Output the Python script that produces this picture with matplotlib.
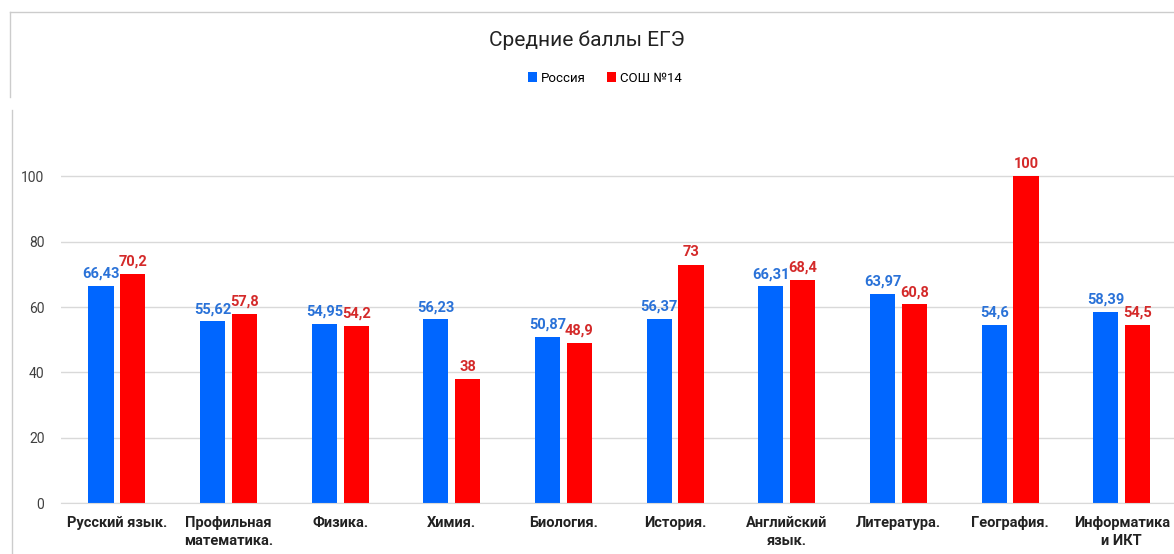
import matplotlib
matplotlib.use("Agg")
import matplotlib.pyplot as plt
import numpy as np
from matplotlib.lines import Line2D

plt.rcParams['font.family'] = ['Roboto', 'DejaVu Sans']

subjects = ["Русский язык.", "Профильная\nматематика.", "Физика.", "Химия.", "Биология.",
            "История.", "Английский\nязык.", "Литература.", "География.", "Информатика\nи ИКТ"]
russia = [66.43, 55.62, 54.95, 56.23, 50.87, 56.37, 66.31, 63.97, 54.6, 58.39]
school = [70.2, 57.8, 54.2, 38, 48.9, 73, 68.4, 60.8, 100, 54.5]
series_names = ["Россия", "СОШ №14"]
yticks = [0, 20, 40, 60, 80, 100]

BLUE = "#0066ff"
RED = "#ff0000"
BLUE_TXT = "#2a72d8"
RED_TXT = "#d42a2a"


def fmt(v):
    return f"{v:g}".replace(".", ",")


fig = plt.figure(figsize=(11.74, 5.54), dpi=100)
ax = fig.add_axes([0.052, 0.092, 0.951, 0.70])

x = np.arange(len(subjects))
w = 0.225
gap = 0.03
b1 = ax.bar(x - w / 2 - gap, russia, w, color=BLUE, label=series_names[0])
b2 = ax.bar(x + w / 2 + gap, school, w, color=RED, label=series_names[1])

for bar, v in zip(b1, russia):
    ax.text(bar.get_x() + bar.get_width() / 2, v + 1.6, fmt(v), ha="center", va="bottom",
            fontsize=10.5, fontweight="bold", color=BLUE_TXT)
for bar, v in zip(b2, school):
    ax.text(bar.get_x() + bar.get_width() / 2, v + 1.6, fmt(v), ha="center", va="bottom",
            fontsize=10.5, fontweight="bold", color=RED_TXT)

ax.set_xlim(-0.5, len(subjects) - 0.5)
ax.set_ylim(0, 118.7)
ax.set_yticks(yticks)
ax.tick_params(axis="y", length=0, labelsize=10, labelcolor="#404040", pad=12)
ax.tick_params(axis="x", length=0, pad=9)
ax.set_xticks(x)
ax.set_xticklabels(subjects, fontsize=10.5, fontweight="bold", color="#222222", linespacing=1.45)
ax.grid(True, axis="y", color="#d9d9d9", linewidth=1)
ax.set_axisbelow(True)
for s in ["top", "right", "left"]:
    ax.spines[s].set_visible(False)
ax.spines["bottom"].set_color("#d9d9d9")

fig.text(0.5, 0.928, "Средние баллы ЕГЭ", ha="center", va="center", fontsize=15, color="#222222")
fig.legend(loc="center", bbox_to_anchor=(0.515, 0.859), ncol=2, frameon=False, fontsize=9.5,
           handlelength=0.7, handleheight=0.7, handletextpad=0.3, columnspacing=1.6)

# screenshot frame lines
fig.add_artist(Line2D([10 / 1174, 1], [1 - 12 / 554, 1 - 12 / 554], color="#cccccc", lw=1))
fig.add_artist(Line2D([10 / 1174, 10 / 1174], [1 - 12 / 554, 1 - 97 / 554], color="#cccccc", lw=1))
fig.add_artist(Line2D([12 / 1174, 12 / 1174], [1 - 110 / 554, 0], color="#cccccc", lw=1))

fig.savefig("out.png", dpi=100)
